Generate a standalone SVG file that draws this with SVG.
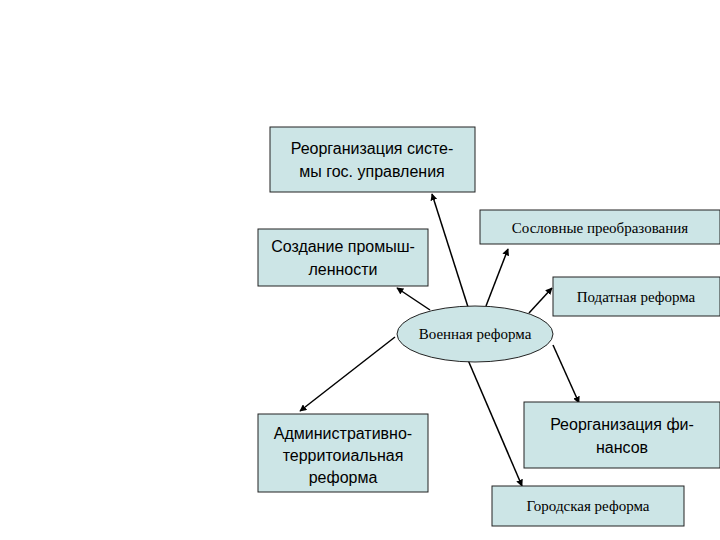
<svg xmlns="http://www.w3.org/2000/svg" width="720" height="540" viewBox="0 0 720 540">
<style>
.b{fill:#cce5e6;stroke:#222;stroke-width:1}
.s{font-family:"Liberation Sans",Arial,sans-serif;font-size:16px;fill:#000;text-anchor:middle}
.r{font-family:"Liberation Serif","Times New Roman",serif;font-size:15px;fill:#000;text-anchor:middle}
.c line{stroke:#000;stroke-width:1.5;marker-end:url(#a)}
</style>
<defs><marker id="a" viewBox="0 0 10 10" refX="9" refY="5" markerWidth="7" markerHeight="7" orient="auto" markerUnits="userSpaceOnUse"><path d="M0,0L10,5L0,10z" fill="#000"/></marker></defs>
<rect width="720" height="540" fill="#fff"/>
<g class="c">
<line x1="468" y1="307" x2="432" y2="194"/>
<line x1="430" y1="310" x2="397" y2="288"/>
<line x1="486" y1="306" x2="508" y2="249"/>
<line x1="529" y1="313" x2="552" y2="288"/>
<line x1="395" y1="337" x2="300" y2="411"/>
<line x1="468" y1="360" x2="522" y2="486"/>
<line x1="553" y1="345" x2="579" y2="403"/>
</g>
<g id="n1"><rect class="b" x="270" y="127" width="205" height="65"/><text class="s" x="372" y="154">Реорганизация систе-</text><text class="s" x="372" y="177">мы гос. управления</text></g>
<g id="n2"><rect class="b" x="258" y="229" width="170" height="57"/><text class="s" x="343" y="252">Создание промыш-</text><text class="s" x="343" y="275">ленности</text></g>
<g id="n3"><rect class="b" x="480" y="210" width="240" height="34"/><text class="r" x="600" y="233">Сословные преобразования</text></g>
<g id="n4"><rect class="b" x="553" y="277" width="167" height="39"/><text class="r" x="636" y="302">Податная реформа</text></g>
<g id="n5"><ellipse class="b" cx="475" cy="334" rx="78" ry="28"/><text class="r" x="475" y="339">Военная реформа</text></g>
<g id="n6"><rect class="b" x="258" y="414" width="170" height="78"/><text class="s" x="343" y="439">Административно-</text><text class="s" x="343" y="461">территоиальная</text><text class="s" x="343" y="483">реформа</text></g>
<g id="n7"><rect class="b" x="524" y="402" width="196" height="66"/><text class="s" x="622" y="430">Реорганизация фи-</text><text class="s" x="622" y="453">нансов</text></g>
<g id="n8"><rect class="b" x="492" y="486" width="192" height="40"/><text class="r" x="588" y="511">Городская реформа</text></g>
</svg>
